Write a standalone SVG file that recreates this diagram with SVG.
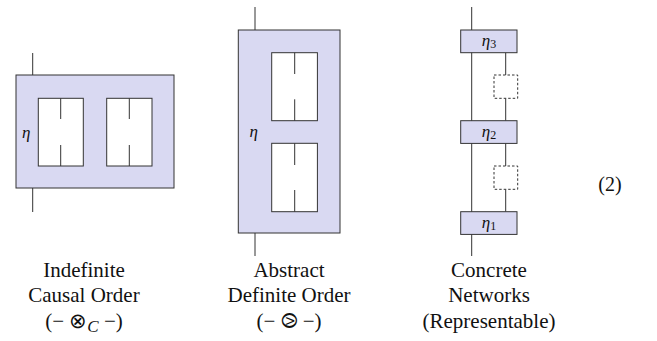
<svg xmlns="http://www.w3.org/2000/svg" width="657" height="341" viewBox="0 0 657 341">
<style>
.box{fill:#d9d9f2;stroke:#333;stroke-width:1}
.hole{fill:#fff;stroke:#333;stroke-width:1}
.w{stroke:#333;stroke-width:1;fill:none}
.dash{fill:#fff;stroke:#333;stroke-width:1;stroke-dasharray:2.5,2}
</style>
<rect width="657" height="341" fill="#fff"/>
<g id="connectors">
<line class="w" x1="32.7" y1="53" x2="32.7" y2="75"/>
<line class="w" x1="32.7" y1="188" x2="32.7" y2="212"/>
<line class="w" x1="255" y1="7" x2="255" y2="30"/>
<line class="w" x1="255" y1="233" x2="255" y2="256"/>
<line class="w" x1="471.7" y1="7" x2="471.7" y2="256"/>
<line class="w" x1="505.7" y1="52.7" x2="505.7" y2="75"/>
<line class="w" x1="505.7" y1="98.3" x2="505.7" y2="120.7"/>
<line class="w" x1="505.7" y1="143.3" x2="505.7" y2="166"/>
<line class="w" x1="505.7" y1="189.3" x2="505.7" y2="211.7"/>
</g>
<g id="indefinite">
<rect class="box" x="16" y="75" width="158" height="113"/>
<rect class="hole" x="38.3" y="98.3" width="45" height="67.7"/>
<rect class="hole" x="106.7" y="98.3" width="45.3" height="67.7"/>
<line class="w" x1="60.7" y1="98.3" x2="60.7" y2="119"/>
<line class="w" x1="60.7" y1="145" x2="60.7" y2="166"/>
<line class="w" x1="129.3" y1="98.3" x2="129.3" y2="119"/>
<line class="w" x1="129.3" y1="145" x2="129.3" y2="166"/>
<text x="22" y="138" font-family="Liberation Serif" font-style="italic" font-size="17" fill="#111">η</text>
</g>
<g id="abstract">
<rect class="box" x="238.3" y="30" width="101.7" height="203"/>
<rect class="hole" x="271.7" y="52.7" width="45.7" height="68"/>
<rect class="hole" x="271.7" y="143.3" width="45.7" height="68.4"/>
<line class="w" x1="294.7" y1="52.7" x2="294.7" y2="74"/>
<line class="w" x1="294.7" y1="99.3" x2="294.7" y2="120.7"/>
<line class="w" x1="294.7" y1="143.3" x2="294.7" y2="165"/>
<line class="w" x1="294.7" y1="190" x2="294.7" y2="211.7"/>
<text x="249.5" y="137" font-family="Liberation Serif" font-style="italic" font-size="17" fill="#111">η</text>
</g>
<g id="eta3">
<rect class="box" x="460.7" y="30" width="56.3" height="22.7"/>
<text x="489" y="46" font-family="Liberation Serif" font-style="italic" font-size="17" fill="#111" text-anchor="middle">η<tspan font-style="normal" font-size="12" dy="2">3</tspan></text>
</g>
<g id="slot1"><rect class="dash" x="494" y="75" width="23.7" height="23.3"/></g>
<g id="eta2">
<rect class="box" x="460.7" y="120.7" width="56.3" height="22.7"/>
<text x="489" y="136.5" font-family="Liberation Serif" font-style="italic" font-size="17" fill="#111" text-anchor="middle">η<tspan font-style="normal" font-size="12" dy="2">2</tspan></text>
</g>
<g id="slot2"><rect class="dash" x="494" y="166" width="23.7" height="23.3"/></g>
<g id="eta1">
<rect class="box" x="460.7" y="211.7" width="56.3" height="22.7"/>
<text x="489" y="227.5" font-family="Liberation Serif" font-style="italic" font-size="17" fill="#111" text-anchor="middle">η<tspan font-style="normal" font-size="12" dy="2">1</tspan></text>
</g>
<g id="labels">
<text x="84" y="277" font-family="Liberation Serif" font-size="21" fill="#111" text-anchor="middle">Indefinite</text>
<text x="84" y="302" font-family="Liberation Serif" font-size="21" fill="#111" text-anchor="middle">Causal Order</text>
<text x="84" y="328" font-family="Liberation Serif" font-size="21" fill="#111" text-anchor="middle">(− ⊗<tspan font-style="italic" font-size="17" dy="4">C</tspan><tspan dy="-4"> −)</tspan></text>
<text x="289" y="277" font-family="Liberation Serif" font-size="21" fill="#111" text-anchor="middle">Abstract</text>
<text x="289" y="302" font-family="Liberation Serif" font-size="21" fill="#111" text-anchor="middle">Definite Order</text>
<text x="289" y="328" font-family="Liberation Serif" font-size="21" fill="#111" text-anchor="middle">(− <tspan font-family="DejaVu Sans" font-size="21">⧁</tspan> −)</text>
<text x="489" y="277" font-family="Liberation Serif" font-size="21" fill="#111" text-anchor="middle">Concrete</text>
<text x="489" y="302" font-family="Liberation Serif" font-size="21" fill="#111" text-anchor="middle">Networks</text>
<text x="489" y="328" font-family="Liberation Serif" font-size="21" fill="#111" text-anchor="middle">(Representable)</text>
<text x="610" y="191" font-family="Liberation Serif" font-size="20" fill="#111" text-anchor="middle">(2)</text>
</g>
</svg>
